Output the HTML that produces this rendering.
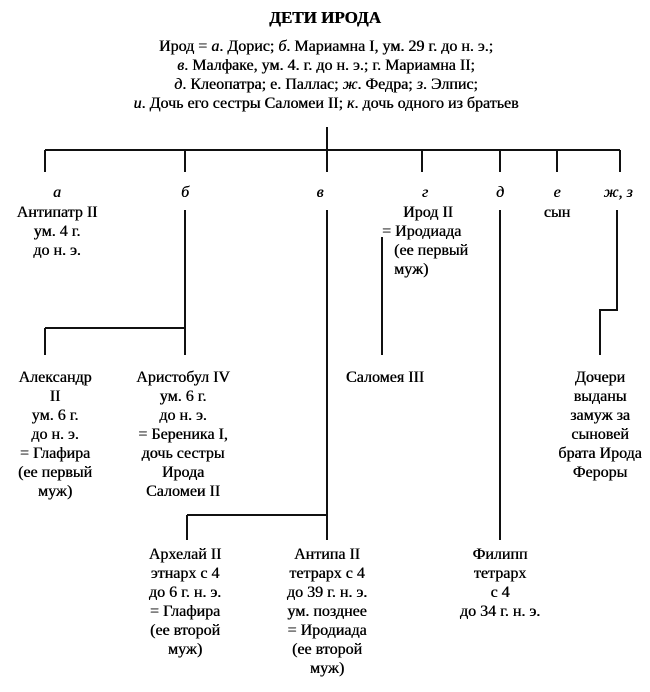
<!DOCTYPE html>
<html><head><meta charset="utf-8"><style>
body{margin:0;background:#fff;}
#c{position:relative;width:650px;height:692px;overflow:hidden;font-family:"Liberation Serif","Noto Serif CJK SC",serif;color:#000;}
.t{position:absolute;transform:translateX(-50%);text-align:center;font-size:16px;line-height:19px;white-space:nowrap;text-shadow:0.4px 0 0 #000;}
.l{position:absolute;font-size:16px;line-height:19px;white-space:nowrap;text-shadow:0.4px 0 0 #000;}
i{font-style:italic;}
svg{position:absolute;left:0;top:0;}
</style></head><body><div id="c">
<svg width="650" height="692"><g stroke="#111" stroke-width="2" fill="none">
<path d="M327 127V150M45 150H620M45 150V172M185 150V172M327 150V172M422 150V172M500 150V172M557 150V172M620 150V172"/>
<path d="M185 210V355M45 328H185M45 328V355"/>
<path d="M327 210V540M187 515H327M187 515V540"/>
<path d="M382 237V355"/>
<path d="M500 210V540"/>
<path d="M617 210V310H600V355"/>
</g></svg>
<div class="t" style="left:325px;top:8px;font-weight:bold;font-size:17px;">ДЕТИ ИРОДА</div>
<div class="t" style="left:326px;top:37px;font-size:16px;">Ирод = <i>а</i>. Дорис; <i>б</i>. Мариамна I, ум. 29 г. до н. э.;<br><i>в</i>. Малфаке, ум. 4. г. до н. э.; г. Мариамна II;<br><i>д</i>. Клеопатра; е. Паллас; <i>ж</i>. Федра; <i>з</i>. Элпис;<br><i>и</i>. Дочь его сестры Саломеи II; <i>к</i>. дочь одного из братьев</div>
<div class="t" style="left:57px;top:183px;"><i>а</i></div>
<div class="t" style="left:185px;top:183px;"><i>б</i></div>
<div class="t" style="left:320px;top:183px;"><i>в</i></div>
<div class="t" style="left:425px;top:183px;"><i>г</i></div>
<div class="t" style="left:500px;top:183px;"><i>д</i></div>
<div class="t" style="left:557px;top:183px;"><i>е</i></div>
<div class="t" style="left:618px;top:183px;"><i>ж, з</i></div>
<div class="t" style="left:57px;top:203px;">Антипатр II<br>ум. 4 г.<br>до н. э.</div>
<div class="t" style="left:428px;top:203px;">Ирод II</div>
<div class="l" style="left:382px;top:222px;">= Иродиада</div>
<div class="l" style="left:394px;top:241px;">(ее первый<br>муж)</div>
<div class="t" style="left:557px;top:203px;">сын</div>
<div class="t" style="left:55px;top:368px;">Александр<br>II<br>ум. 6 г.<br>до н. э.<br>= Глафира<br>(ее первый<br>муж)</div>
<div class="t" style="left:183px;top:368px;">Аристобул IV<br>ум. 6 г.<br>до н. э.<br>= Береника I,<br>дочь сестры<br>Ирода<br>Саломеи II</div>
<div class="t" style="left:385px;top:368px;">Саломея III</div>
<div class="t" style="left:600px;top:368px;">Дочери<br>выданы<br>замуж за<br>сыновей<br>брата Ирода<br>Фероры</div>
<div class="t" style="left:185px;top:545px;">Архелай II<br>этнарх с 4<br>до 6 г. н. э.<br>= Глафира<br>(ее второй<br>муж)</div>
<div class="t" style="left:327px;top:545px;">Антипа II<br>тетрарх с 4<br>до 39 г. н. э.<br>ум. позднее<br>= Иродиада<br>(ее второй<br>муж)</div>
<div class="t" style="left:500px;top:545px;">Филипп<br>тетрарх<br>с 4<br>до 34 г. н. э.</div>
</div></body></html>
